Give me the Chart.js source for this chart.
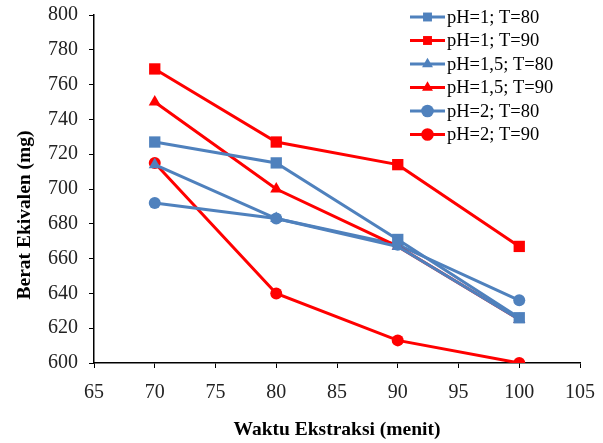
<!DOCTYPE html>
<html>
<head>
<meta charset="utf-8">
<script src="https://cdn.jsdelivr.net/npm/chart.js@4"></script>
<style>
  html, body { margin: 0; padding: 0; background: #fff; }
  #wrap { width: 603px; height: 443px; }
</style>
</head>
<body>
<div id="wrap"><canvas id="chart" width="603" height="443"></canvas></div>
<script>
// Waktu ekstraksi (menit)
const waktu = [70, 80, 90, 100];

// Berat ekivalen (mg) per kondisi
const ph1T80 = [727, 715, 671, 626];
const ph1T90 = [769, 727, 714, 667];
const ph15T80 = [714, 683, 667, 625];
const ph15T90 = [750, 700, 667, 625];
const ph2T80 = [692, 683, 668, 636];
const ph2T90 = [715, 640, 613, 600];

const seriesLabels = ['pH=1; T=80', 'pH=1; T=90', 'pH=1,5; T=80', 'pH=1,5; T=90', 'pH=2; T=80', 'pH=2; T=90'];
const seriesValues = [ph1T80, ph1T90, ph15T80, ph15T90, ph2T80, ph2T90];

const BLUE = '#4F81BD';
const RED = '#FF0000';
const colors = [BLUE, RED, BLUE, RED, BLUE, RED];
const markers = ['rect', 'rect', 'triangle', 'triangle', 'circle', 'circle'];

const xTicks = [65, 70, 75, 80, 85, 90, 95, 100, 105];
const yTicks = [600, 620, 640, 660, 680, 700, 720, 740, 760, 780, 800];

const FONT = "'Liberation Serif', 'Times New Roman', serif";
const Y_TITLE = 'Berat Ekivalen (mg)';

function markerRadius(style) {
  if (style === 'rect') return 8;
  if (style === 'triangle') return 7;
  return 6;
}

const datasets = seriesLabels.map((label, i) => ({
  label: label,
  data: seriesValues[i].map((v, j) => ({ x: waktu[j], y: v })),
  borderColor: colors[i],
  backgroundColor: colors[i],
  borderWidth: 3,
  pointStyle: markers[i],
  pointRadius: markerRadius(markers[i]),
  pointBorderWidth: 0,
  tension: 0
}));

// legenda: garis + penanda, seperti di Excel; judul sumbu Y digambar sendiri
const lineLegend = {
  id: 'lineLegend',
  afterDraw(chart) {
    const ctx = chart.ctx;
    ctx.save();
    const x0 = 410, x1 = 445;
    seriesLabels.forEach((label, i) => {
      const y = 17 + i * 23.5;
      ctx.strokeStyle = colors[i];
      ctx.lineWidth = 3;
      ctx.beginPath();
      ctx.moveTo(x0, y);
      ctx.lineTo(x1, y);
      ctx.stroke();
      ctx.fillStyle = colors[i];
      Chart.helpers.drawPoint(ctx, { pointStyle: markers[i], radius: 6.3, borderWidth: 0 }, (x0 + x1) / 2, y);
      ctx.fillStyle = '#000';
      ctx.font = '18.5px ' + FONT;
      ctx.textBaseline = 'middle';
      ctx.textAlign = 'left';
      ctx.fillText(label, x1 + 2, y + 1);
    });

    ctx.translate(25, 215);
    ctx.rotate(-Math.PI / 2);
    ctx.font = 'bold 19.5px ' + FONT;
    ctx.textAlign = 'center';
    ctx.textBaseline = 'middle';
    ctx.fillText(Y_TITLE, 0, 0);
    ctx.restore();
  }
};

new Chart(document.getElementById('chart'), {
  type: 'line',
  data: { datasets: datasets },
  options: {
    responsive: false,
    animation: false,
    layout: { padding: { top: 15, right: 23, left: 0, bottom: 0 } },
    plugins: {
      legend: { display: false },
      tooltip: { enabled: false }
    },
    scales: {
      x: {
        type: 'linear',
        min: 65,
        max: 105,
        afterBuildTicks(axis) { axis.ticks = xTicks.map(v => ({ value: v })); },
        afterFit(axis) {
          axis.height = 80;
          axis.paddingLeft = 0;
          axis.paddingRight = 0;
        },
        grid: { display: true, drawOnChartArea: false, drawTicks: true, tickLength: 5, color: '#000', lineWidth: 1 },
        border: { color: '#000', width: 1.5 },
        ticks: { color: '#222', font: { family: FONT, size: 20 }, padding: 13, maxRotation: 0 },
        title: { display: true, text: 'Waktu Ekstraksi (menit)', color: '#000', font: { family: FONT, size: 19.5, weight: 'bold' }, padding: { top: 0, bottom: 1 } }
      },
      y: {
        min: 600,
        max: 800,
        afterBuildTicks(axis) { axis.ticks = yTicks.map(v => ({ value: v })); },
        afterFit(axis) {
          axis.width = 94;
          axis.paddingTop = 0;
          axis.paddingBottom = 0;
        },
        grid: { display: true, drawOnChartArea: false, drawTicks: true, tickLength: 5, color: '#000', lineWidth: 1 },
        border: { color: '#000', width: 1.5 },
        ticks: { color: '#222', font: { family: FONT, size: 20 }, padding: 11 },
        title: { display: false }
      }
    }
  },
  plugins: [lineLegend]
});
</script>
</body>
</html>
